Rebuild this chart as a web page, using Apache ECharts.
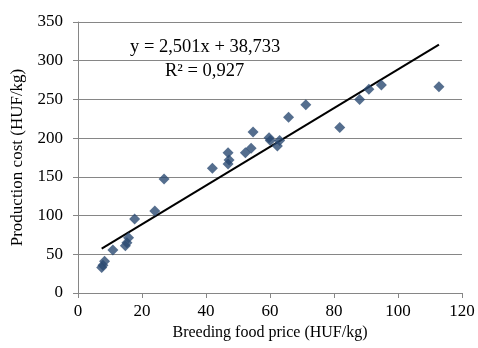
<!DOCTYPE html>
<html><head><meta charset="utf-8">
<script src="https://cdn.jsdelivr.net/npm/echarts@6/dist/echarts.min.js"></script>
<style>html,body{margin:0;padding:0;background:#fff}#c{width:478px;height:348px}</style>
</head><body><div id="c"></div>
<script>
const foodPrice = [7.4, 7.8, 8.3, 10.9, 14.8, 15.3, 15.8, 17.7, 24.0, 26.9, 42.0, 46.9, 47.2, 46.9, 52.3, 54.1, 54.7, 59.7, 60.1, 62.3, 63.0, 65.8, 71.2, 81.8, 88.0, 90.9, 94.8, 112.8];
const productionCost = [33, 36, 41, 55.5, 61, 65, 71.5, 95.6, 106, 147.3, 161, 181, 171.8, 166.7, 181, 187, 208, 200.6, 196.8, 190, 196.8, 227, 243, 213.6, 250, 263, 268.7, 266.5];
const slope = 2.501, intercept = 38.733;
const xTicks = [0, 20, 40, 60, 80, 100, 120];
const yTicks = [0, 50, 100, 150, 200, 250, 300, 350];
const eqText = 'y = 2,501x + 38,733';
const r2Text = 'R² = 0,927';

const pts = foodPrice.map((x, i) => [x, productionCost[i]]);
const xMin = Math.min(...foodPrice), xMax = Math.max(...foodPrice);
const trend = [[xMin, slope * xMin + intercept], [xMax, slope * xMax + intercept]];
const font = '"Liberation Serif", "Times New Roman", serif';
const chart = echarts.init(document.getElementById('c'));
chart.setOption({
  animation: false,
  grid: {left: 78, right: 16, top: 22, bottom: 55, containLabel: false},
  xAxis: {
    type: 'value', min: xTicks[0], max: xTicks[xTicks.length - 1], interval: 20,
    name: 'Breeding food price (HUF/kg)', nameLocation: 'middle', nameGap: 32,
    nameTextStyle: {fontFamily: font, fontSize: 16, color: '#000'},
    axisLine: {lineStyle: {color: '#868686', width: 1}},
    axisTick: {show: true, length: 5, lineStyle: {color: '#868686'}},
    axisLabel: {fontFamily: font, fontSize: 17, color: '#000', margin: 10},
    splitLine: {show: false}
  },
  yAxis: {
    type: 'value', min: yTicks[0], max: yTicks[yTicks.length - 1], interval: 50,
    name: 'Production cost (HUF/kg)', nameLocation: 'middle', nameGap: 52,
    nameTextStyle: {fontFamily: font, fontSize: 17, color: '#000'},
    axisLine: {show: true, lineStyle: {color: '#868686', width: 1}},
    axisTick: {show: true, length: 5, lineStyle: {color: '#868686'}},
    axisLabel: {fontFamily: font, fontSize: 17, color: '#000', margin: 15},
    splitLine: {show: true, lineStyle: {color: '#868686', width: 1}}
  },
  graphic: [
    {type: 'text', left: 130, top: 38, style: {text: eqText, font: '18.5px ' + font, fill: '#000'}},
    {type: 'text', left: 165, top: 62, style: {text: r2Text, font: '18.5px ' + font, fill: '#000'}}
  ],
  series: [
    {type: 'line', data: trend, symbol: 'none', lineStyle: {color: '#000', width: 2}, z: 3},
    {type: 'scatter', data: pts, symbol: 'diamond', symbolSize: 11, itemStyle: {color: '#2A4A72'}, z: 4}
  ]
});
</script></body></html>
